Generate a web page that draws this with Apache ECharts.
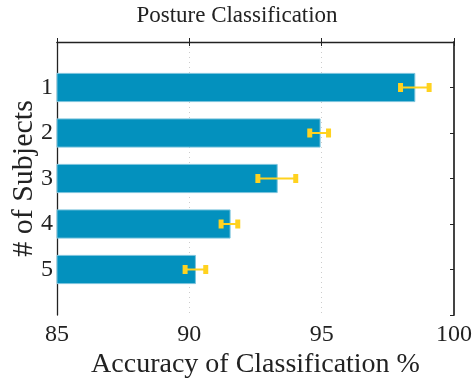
<!DOCTYPE html>
<html>
<head>
<meta charset="utf-8">
<script src="https://cdn.jsdelivr.net/npm/echarts@6/dist/echarts.min.js"></script>
<style>html,body{margin:0;padding:0;background:#fff;}#c{width:474px;height:378px;}</style>
</head>
<body>
<div id="c"></div>
<script>
var subjects = [1, 2, 3, 4, 5];
var accuracy = [98.52, 94.94, 93.32, 91.54, 90.23];
var errLow = [97.98, 94.55, 92.59, 91.20, 89.84];
var errHigh = [99.06, 95.26, 94.02, 91.83, 90.62];
var xTicks = [85, 90, 95, 100];

var FONT = 'Liberation Serif';
var chart = echarts.init(document.getElementById('c'));

var barData = subjects.map(function (s, i) { return [accuracy[i], s]; });
var errData = subjects.map(function (s, i) { return [errLow[i], errHigh[i], s]; });

chart.setOption({
  animation: false,
  backgroundColor: '#fff',
  title: {
    text: 'Posture Classification',
    left: 'center', top: -1,
    textStyle: { fontFamily: FONT, fontSize: 23, fontWeight: 'normal', color: '#222' }
  },
  grid: { left: 57, right: 20, top: 42, bottom: 63, outerBoundsMode: 'none', containLabel: false },
  xAxis: [{
    type: 'value', min: 85, max: 100, interval: 5, position: 'bottom',
    name: 'Accuracy of Classification %', nameLocation: 'middle', nameGap: 36,
    nameMoveOverlap: false,
    nameTextStyle: { fontFamily: FONT, fontSize: 28, color: '#222' },
    axisLine: { show: true, lineStyle: { color: '#222', width: 1.3 } },
    axisTick: { show: true, inside: true, length: 4, lineStyle: { color: '#222' } },
    axisLabel: { fontFamily: FONT, fontSize: 24, color: '#222', margin: 8,
      formatter: function (v) { return xTicks.indexOf(v) >= 0 ? String(v) : ''; } },
    splitLine: { show: true, lineStyle: { color: '#ccc', type: [1, 4], width: 1 } }
  }, {
    type: 'value', min: 85, max: 100, interval: 5, position: 'top',
    axisLine: { show: true, lineStyle: { color: '#222', width: 1 } },
    axisTick: { show: true, inside: true, length: 4, lineStyle: { color: '#222' } },
    axisLabel: { show: false }, splitLine: { show: false }
  }],
  yAxis: [{
    type: 'value', min: 0, max: 6, interval: 1, inverse: true, position: 'left',
    name: '# of Subjects', nameLocation: 'middle', nameGap: 18, nameRotate: 90,
    nameMoveOverlap: false,
    nameTextStyle: { fontFamily: FONT, fontSize: 30, color: '#222' },
    axisLine: { show: true, lineStyle: { color: '#222', width: 1.3 } },
    axisTick: { show: false },
    axisLabel: { fontFamily: FONT, fontSize: 24, color: '#222', margin: 4,
      formatter: function (v) { return subjects.indexOf(v) >= 0 ? String(v) : ''; } },
    splitLine: { show: false }
  }, {
    type: 'value', min: 0, max: 6, interval: 1, inverse: true, position: 'right',
    axisLine: { show: true, lineStyle: { color: '#444', width: 2 } },
    axisTick: { show: true, inside: true, length: 4, lineStyle: { color: '#222' },
      interval: function (i, v) { return v >= 1 && v <= 5; } },
    axisLabel: { show: false }, splitLine: { show: false }
  }],
  series: [{
    type: 'custom',
    data: barData,
    encode: { x: 0, y: 1 },
    renderItem: function (params, api) {
      var p0 = api.coord([85, api.value(1)]);
      var p1 = api.coord([api.value(0), api.value(1)]);
      var h = api.size([0, 0.62])[1];
      return {
        type: 'rect',
        shape: { x: p0[0], y: p0[1] - h / 2, width: p1[0] - p0[0], height: h },
        style: { fill: '#0391BE', stroke: '#7cc4dd', lineWidth: 1 }
      };
    },
    z: 3
  }, {
    type: 'custom',
    data: errData,
    encode: { x: [0, 1], y: 2 },
    renderItem: function (params, api) {
      var a = api.coord([api.value(0), api.value(2)]);
      var b = api.coord([api.value(1), api.value(2)]);
      var cw = 5, ch = 9;
      return {
        type: 'group',
        children: [{
          type: 'line',
          shape: { x1: a[0], y1: a[1], x2: b[0], y2: b[1] },
          style: { stroke: '#FFD21F', lineWidth: 2 }
        }, {
          type: 'rect',
          shape: { x: a[0] - cw / 2, y: a[1] - ch / 2, width: cw, height: ch },
          style: { fill: '#FFD21F' }
        }, {
          type: 'rect',
          shape: { x: b[0] - cw / 2, y: b[1] - ch / 2, width: cw, height: ch },
          style: { fill: '#FFD21F' }
        }]
      };
    },
    z: 4
  }]
});
</script>
</body>
</html>
